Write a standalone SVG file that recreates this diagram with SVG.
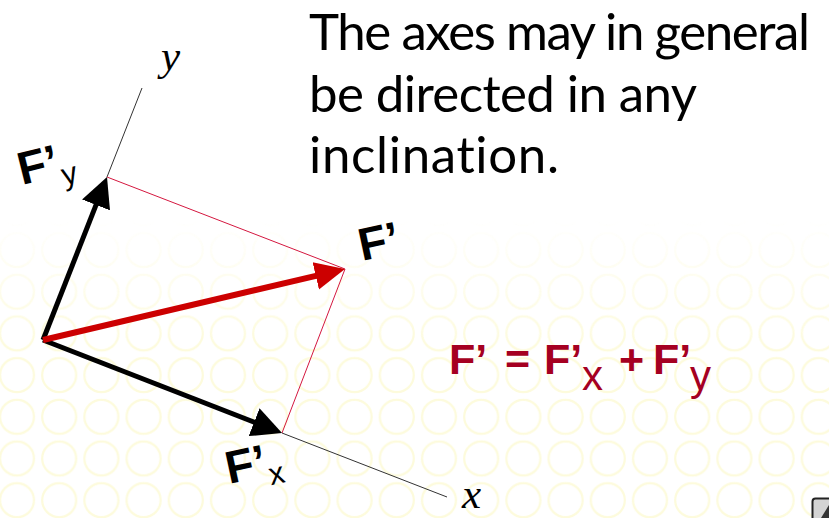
<svg xmlns="http://www.w3.org/2000/svg" width="829" height="518" viewBox="0 0 829 518">
<style>
.title{font-family:Lato,"Open Sans","Liberation Sans",sans-serif;font-size:51px;fill:#000;font-variant-ligatures:none;font-feature-settings:"liga" 0,"clig" 0}
.lbl{font-family:"Liberation Sans",Arial,sans-serif;font-weight:bold;font-size:46px;fill:#000}
.sub{font-family:"Liberation Sans",Arial,sans-serif;font-weight:normal;font-size:31px}
.ax{font-family:"Liberation Serif","Times New Roman",serif;font-style:italic;font-size:43px;fill:#000}
.fb{font-family:"Liberation Sans",Arial,sans-serif;font-weight:bold;font-size:43px;fill:#A50021}
.fr{font-family:"Liberation Sans",Arial,sans-serif;font-weight:normal;font-size:42px;fill:#A50021}
.axis{stroke:#333;stroke-width:1;fill:none}
.comp{stroke:#D4173F;stroke-width:1;fill:none}
.blk{stroke:#000;stroke-width:5;fill:none}
.red{stroke:#CC0000;stroke-width:6;fill:none}
</style>
<defs>
<pattern id="rings" patternUnits="userSpaceOnUse" x="-4.1" y="229.15" width="42.2" height="41.7">
<circle cx="21.1" cy="20.85" r="17" fill="none" stroke="#FDFBDC" stroke-width="2.2"/>
</pattern>
<linearGradient id="fade" gradientUnits="userSpaceOnUse" x1="0" y1="220" x2="0" y2="345">
<stop offset="0" stop-color="#000"/>
<stop offset="1" stop-color="#fff"/>
</linearGradient>
<mask id="fm"><rect width="829" height="518" fill="url(#fade)"/></mask>
<marker id="ahB" markerUnits="userSpaceOnUse" viewBox="0 0 30 30" markerWidth="30" markerHeight="30" refX="10" refY="15" orient="auto">
<path d="M0,0 L30,15 L0,30 Z" fill="#000"/>
</marker>
<marker id="ahR" markerUnits="userSpaceOnUse" viewBox="0 0 30 30" markerWidth="30" markerHeight="30" refX="10" refY="15" orient="auto">
<path d="M0,1 L30,15 L0,29 Z" fill="#CC0000"/>
</marker>
</defs>

<rect width="829" height="518" fill="#fff"/>
<rect width="829" height="518" fill="url(#rings)" mask="url(#fm)"/>

<g id="connectors">
<line class="axis" x1="107" y1="177" x2="142" y2="88"/>
<line class="axis" x1="282" y1="433" x2="447" y2="497"/>
<line class="comp" x1="107" y1="177" x2="345" y2="269"/>
<line class="comp" x1="345" y1="269" x2="282" y2="433"/>
<line class="blk" x1="43" y1="340" x2="99.7" y2="195.6" marker-end="url(#ahB)"/>
<line class="blk" x1="43" y1="340" x2="263.4" y2="425.8" marker-end="url(#ahB)"/>
<line class="red" x1="43" y1="340" x2="325.5" y2="273.6" marker-end="url(#ahR)"/>
</g>

<g id="title">
<text class="title" x="309" y="50" textLength="501" lengthAdjust="spacing">The axes may in general</text>
<text class="title" x="309" y="112" textLength="388" lengthAdjust="spacing">be directed in any</text>
<text class="title" x="309" y="173" textLength="250" lengthAdjust="spacing">inclination.</text>
</g>

<g id="axis-y"><text class="ax" x="161" y="70">y</text></g>
<g id="axis-x"><text class="ax" x="462" y="508">x</text></g>

<g id="label-Fy"><text class="lbl" x="22" y="185" transform="rotate(-14 22 185)">F’<tspan class="sub" dy="11">y</tspan></text></g>
<g id="label-Fx"><text class="lbl" x="229" y="484" transform="rotate(-12 229 484)">F’<tspan class="sub" dy="10">x</tspan></text></g>
<g id="label-F"><text class="lbl" x="362" y="261" transform="rotate(-12 362 261)">F’</text></g>

<g id="formula">
<text class="fb" x="449" y="374">F’</text>
<text class="fb" x="505" y="374">=</text>
<text class="fb" x="544" y="374">F’</text>
<text class="fr" x="582" y="390">x</text>
<text class="fb" x="619" y="374">+</text>
<text class="fb" x="653" y="374">F’</text>
<text class="fr" x="690" y="390">y</text>
</g>

<g id="corner-icon">
<rect x="812.5" y="498.5" width="24" height="24" rx="3" fill="#d4d4d4" stroke="#222" stroke-width="2"/>
<path d="M821,518 L829,505 L829,518 Z" fill="#333"/>
</g>
</svg>
